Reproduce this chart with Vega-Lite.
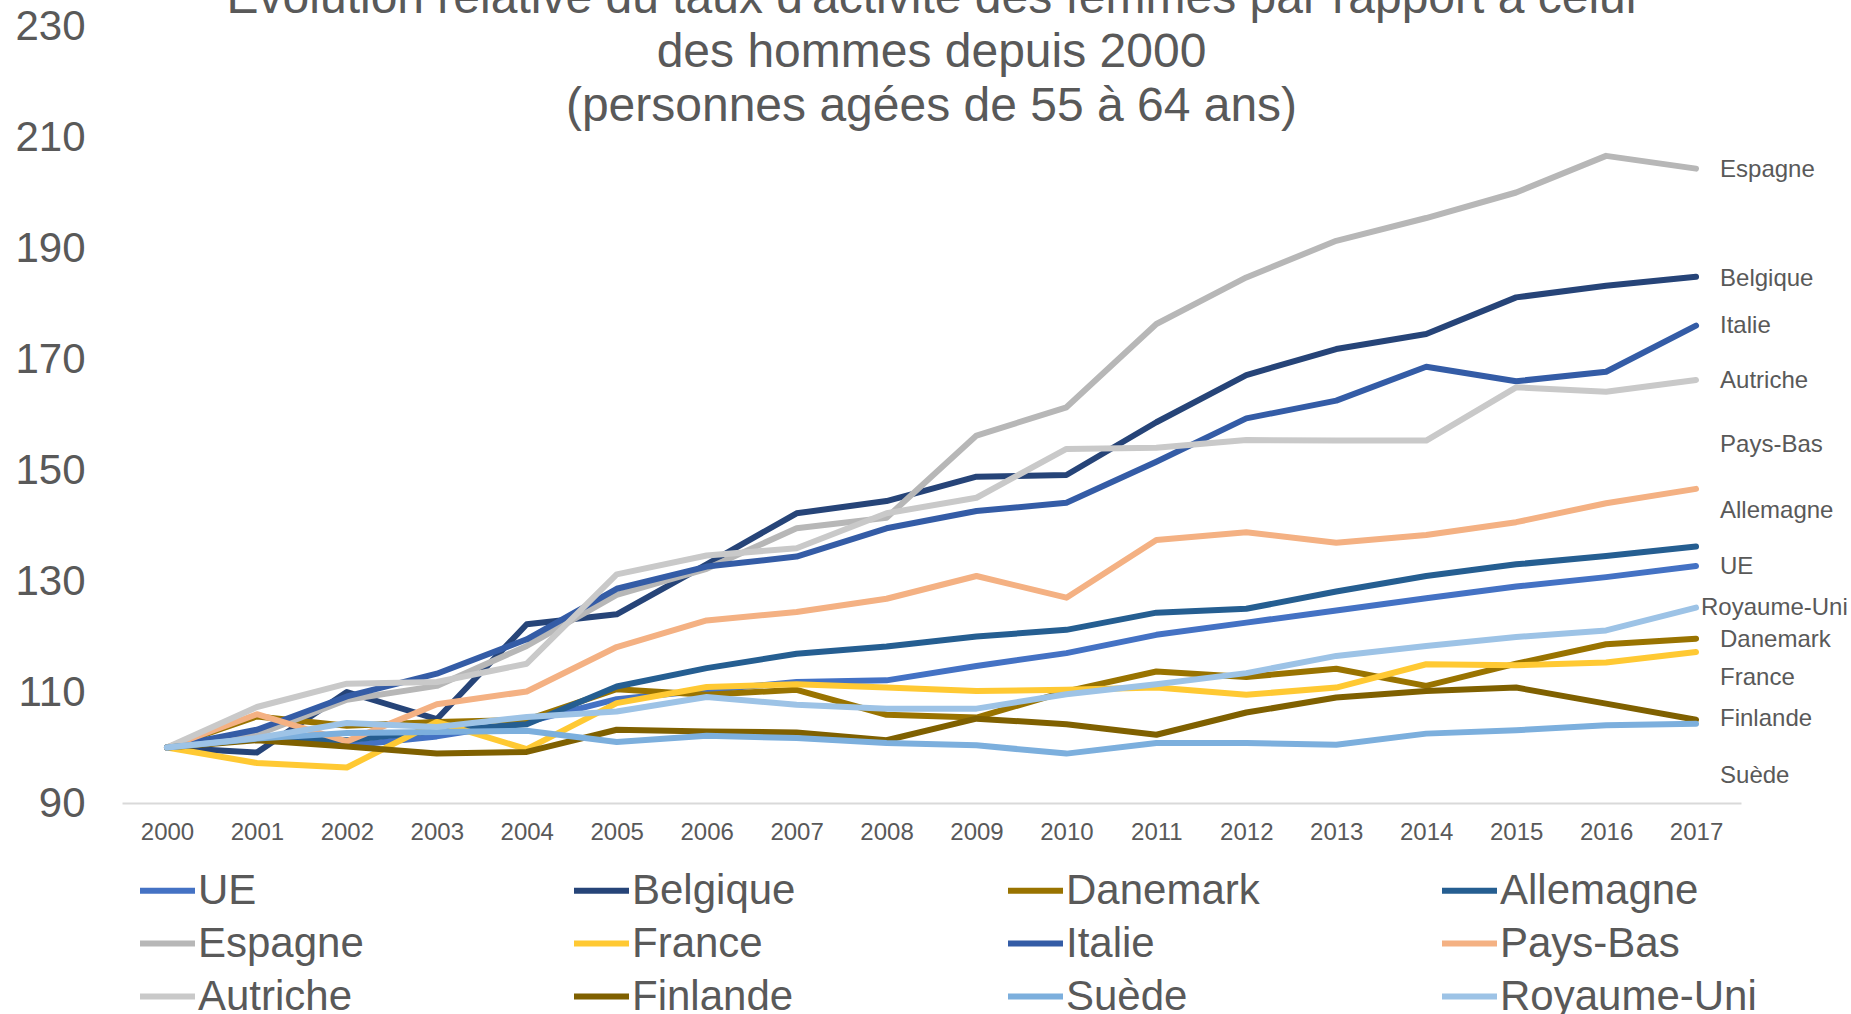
{
  "$schema": "https://vega.github.io/schema/vega-lite/v6.json",
  "autosize": {"type": "none"},
  "padding": {"left": 122, "top": 26, "right": 110, "bottom": 211},
  "width": 1619,
  "height": 777,
  "background": "white",
  "title": {
    "text": ["Évolution relative du taux d'activité des femmes par rapport à celui", "des hommes depuis 2000", "(personnes agées de 55 à 64 ans)"],
    "fontSize": 48, "fontWeight": "normal", "color": "#595959", "lineHeight": 54, "offset": -126, "anchor": "middle", "font": "Liberation Sans"
  },
  "datasets": {
    "etiquettes": [
      {"pays": "Espagne", "annee": "2017", "niveau": 204.1},
      {"pays": "Belgique", "annee": "2017", "niveau": 184.5},
      {"pays": "Italie", "annee": "2017", "niveau": 176.0},
      {"pays": "Autriche", "annee": "2017", "niveau": 166.0},
      {"pays": "Pays-Bas", "annee": "2017", "niveau": 154.5},
      {"pays": "Allemagne", "annee": "2017", "niveau": 142.6},
      {"pays": "UE", "annee": "2017", "niveau": 132.6},
      {"pays": "Royaume-Uni", "annee": "2017", "niveau": 125.1},
      {"pays": "Danemark", "annee": "2017", "niveau": 119.4},
      {"pays": "France", "annee": "2017", "niveau": 112.6},
      {"pays": "Finlande", "annee": "2017", "niveau": 105.1},
      {"pays": "Suède", "annee": "2017", "niveau": 94.9}
    ],
    "series": [
      {"pays":"UE","annee":"2000","valeur":100},{"pays":"UE","annee":"2001","valeur":101.5},{"pays":"UE","annee":"2002","valeur":100.3},{"pays":"UE","annee":"2003","valeur":102.0},{"pays":"UE","annee":"2004","valeur":104.6},{"pays":"UE","annee":"2005","valeur":108.7},{"pays":"UE","annee":"2006","valeur":110.3},{"pays":"UE","annee":"2007","valeur":111.8},{"pays":"UE","annee":"2008","valeur":112.1},{"pays":"UE","annee":"2009","valeur":114.7},{"pays":"UE","annee":"2010","valeur":117.0},{"pays":"UE","annee":"2011","valeur":120.3},{"pays":"UE","annee":"2012","valeur":122.5},{"pays":"UE","annee":"2013","valeur":124.7},{"pays":"UE","annee":"2014","valeur":126.9},{"pays":"UE","annee":"2015","valeur":129.0},{"pays":"UE","annee":"2016","valeur":130.7},{"pays":"UE","annee":"2017","valeur":132.7},
      {"pays":"Belgique","annee":"2000","valeur":100},{"pays":"Belgique","annee":"2001","valeur":99.1},{"pays":"Belgique","annee":"2002","valeur":110.0},{"pays":"Belgique","annee":"2003","valeur":105.1},{"pays":"Belgique","annee":"2004","valeur":122.2},{"pays":"Belgique","annee":"2005","valeur":124.0},{"pays":"Belgique","annee":"2006","valeur":133.0},{"pays":"Belgique","annee":"2007","valeur":142.2},{"pays":"Belgique","annee":"2008","valeur":144.4},{"pays":"Belgique","annee":"2009","valeur":148.8},{"pays":"Belgique","annee":"2010","valeur":149.1},{"pays":"Belgique","annee":"2011","valeur":158.6},{"pays":"Belgique","annee":"2012","valeur":167.1},{"pays":"Belgique","annee":"2013","valeur":171.8},{"pays":"Belgique","annee":"2014","valeur":174.5},{"pays":"Belgique","annee":"2015","valeur":181.1},{"pays":"Belgique","annee":"2016","valeur":183.2},{"pays":"Belgique","annee":"2017","valeur":184.8},
      {"pays":"Danemark","annee":"2000","valeur":100},{"pays":"Danemark","annee":"2001","valeur":105.6},{"pays":"Danemark","annee":"2002","valeur":103.9},{"pays":"Danemark","annee":"2003","valeur":104.6},{"pays":"Danemark","annee":"2004","valeur":105.0},{"pays":"Danemark","annee":"2005","valeur":110.5},{"pays":"Danemark","annee":"2006","valeur":109.5},{"pays":"Danemark","annee":"2007","valeur":110.4},{"pays":"Danemark","annee":"2008","valeur":105.9},{"pays":"Danemark","annee":"2009","valeur":105.4},{"pays":"Danemark","annee":"2010","valeur":110.1},{"pays":"Danemark","annee":"2011","valeur":113.7},{"pays":"Danemark","annee":"2012","valeur":112.7},{"pays":"Danemark","annee":"2013","valeur":114.2},{"pays":"Danemark","annee":"2014","valeur":111.1},{"pays":"Danemark","annee":"2015","valeur":115.1},{"pays":"Danemark","annee":"2016","valeur":118.6},{"pays":"Danemark","annee":"2017","valeur":119.6},
      {"pays":"Allemagne","annee":"2000","valeur":100},{"pays":"Allemagne","annee":"2001","valeur":101.9},{"pays":"Allemagne","annee":"2002","valeur":101.3},{"pays":"Allemagne","annee":"2003","valeur":103.0},{"pays":"Allemagne","annee":"2004","valeur":104.2},{"pays":"Allemagne","annee":"2005","valeur":111.0},{"pays":"Allemagne","annee":"2006","valeur":114.3},{"pays":"Allemagne","annee":"2007","valeur":116.9},{"pays":"Allemagne","annee":"2008","valeur":118.2},{"pays":"Allemagne","annee":"2009","valeur":120.0},{"pays":"Allemagne","annee":"2010","valeur":121.2},{"pays":"Allemagne","annee":"2011","valeur":124.3},{"pays":"Allemagne","annee":"2012","valeur":125.0},{"pays":"Allemagne","annee":"2013","valeur":128.1},{"pays":"Allemagne","annee":"2014","valeur":130.9},{"pays":"Allemagne","annee":"2015","valeur":133.0},{"pays":"Allemagne","annee":"2016","valeur":134.5},{"pays":"Allemagne","annee":"2017","valeur":136.2},
      {"pays":"Espagne","annee":"2000","valeur":100},{"pays":"Espagne","annee":"2001","valeur":102.3},{"pays":"Espagne","annee":"2002","valeur":108.6},{"pays":"Espagne","annee":"2003","valeur":111.1},{"pays":"Espagne","annee":"2004","valeur":118.3},{"pays":"Espagne","annee":"2005","valeur":127.5},{"pays":"Espagne","annee":"2006","valeur":132.2},{"pays":"Espagne","annee":"2007","valeur":139.5},{"pays":"Espagne","annee":"2008","valeur":141.4},{"pays":"Espagne","annee":"2009","valeur":156.2},{"pays":"Espagne","annee":"2010","valeur":161.3},{"pays":"Espagne","annee":"2011","valeur":176.3},{"pays":"Espagne","annee":"2012","valeur":184.7},{"pays":"Espagne","annee":"2013","valeur":191.3},{"pays":"Espagne","annee":"2014","valeur":195.4},{"pays":"Espagne","annee":"2015","valeur":200.0},{"pays":"Espagne","annee":"2016","valeur":206.6},{"pays":"Espagne","annee":"2017","valeur":204.3},
      {"pays":"France","annee":"2000","valeur":100},{"pays":"France","annee":"2001","valeur":97.2},{"pays":"France","annee":"2002","valeur":96.4},{"pays":"France","annee":"2003","valeur":104.6},{"pays":"France","annee":"2004","valeur":99.7},{"pays":"France","annee":"2005","valeur":108.0},{"pays":"France","annee":"2006","valeur":110.9},{"pays":"France","annee":"2007","valeur":111.4},{"pays":"France","annee":"2008","valeur":110.8},{"pays":"France","annee":"2009","valeur":110.2},{"pays":"France","annee":"2010","valeur":110.4},{"pays":"France","annee":"2011","valeur":110.8},{"pays":"France","annee":"2012","valeur":109.5},{"pays":"France","annee":"2013","valeur":110.8},{"pays":"France","annee":"2014","valeur":115.0},{"pays":"France","annee":"2015","valeur":114.8},{"pays":"France","annee":"2016","valeur":115.3},{"pays":"France","annee":"2017","valeur":117.2},
      {"pays":"Italie","annee":"2000","valeur":100},{"pays":"Italie","annee":"2001","valeur":103.2},{"pays":"Italie","annee":"2002","valeur":109.2},{"pays":"Italie","annee":"2003","valeur":113.3},{"pays":"Italie","annee":"2004","valeur":119.5},{"pays":"Italie","annee":"2005","valeur":128.6},{"pays":"Italie","annee":"2006","valeur":132.6},{"pays":"Italie","annee":"2007","valeur":134.4},{"pays":"Italie","annee":"2008","valeur":139.5},{"pays":"Italie","annee":"2009","valeur":142.6},{"pays":"Italie","annee":"2010","valeur":144.1},{"pays":"Italie","annee":"2011","valeur":151.5},{"pays":"Italie","annee":"2012","valeur":159.3},{"pays":"Italie","annee":"2013","valeur":162.5},{"pays":"Italie","annee":"2014","valeur":168.6},{"pays":"Italie","annee":"2015","valeur":166.0},{"pays":"Italie","annee":"2016","valeur":167.7},{"pays":"Italie","annee":"2017","valeur":176.0},
      {"pays":"Pays-Bas","annee":"2000","valeur":100},{"pays":"Pays-Bas","annee":"2001","valeur":106.0},{"pays":"Pays-Bas","annee":"2002","valeur":101.1},{"pays":"Pays-Bas","annee":"2003","valeur":107.8},{"pays":"Pays-Bas","annee":"2004","valeur":110.1},{"pays":"Pays-Bas","annee":"2005","valeur":118.1},{"pays":"Pays-Bas","annee":"2006","valeur":122.9},{"pays":"Pays-Bas","annee":"2007","valeur":124.4},{"pays":"Pays-Bas","annee":"2008","valeur":126.8},{"pays":"Pays-Bas","annee":"2009","valeur":130.9},{"pays":"Pays-Bas","annee":"2010","valeur":127.0},{"pays":"Pays-Bas","annee":"2011","valeur":137.4},{"pays":"Pays-Bas","annee":"2012","valeur":138.8},{"pays":"Pays-Bas","annee":"2013","valeur":136.9},{"pays":"Pays-Bas","annee":"2014","valeur":138.3},{"pays":"Pays-Bas","annee":"2015","valeur":140.6},{"pays":"Pays-Bas","annee":"2016","valeur":144.0},{"pays":"Pays-Bas","annee":"2017","valeur":146.6},
      {"pays":"Autriche","annee":"2000","valeur":100},{"pays":"Autriche","annee":"2001","valeur":107.3},{"pays":"Autriche","annee":"2002","valeur":111.5},{"pays":"Autriche","annee":"2003","valeur":111.8},{"pays":"Autriche","annee":"2004","valeur":115.1},{"pays":"Autriche","annee":"2005","valeur":131.2},{"pays":"Autriche","annee":"2006","valeur":134.6},{"pays":"Autriche","annee":"2007","valeur":135.9},{"pays":"Autriche","annee":"2008","valeur":142.2},{"pays":"Autriche","annee":"2009","valeur":145.0},{"pays":"Autriche","annee":"2010","valeur":153.8},{"pays":"Autriche","annee":"2011","valeur":154.0},{"pays":"Autriche","annee":"2012","valeur":155.4},{"pays":"Autriche","annee":"2013","valeur":155.3},{"pays":"Autriche","annee":"2014","valeur":155.3},{"pays":"Autriche","annee":"2015","valeur":164.9},{"pays":"Autriche","annee":"2016","valeur":164.1},{"pays":"Autriche","annee":"2017","valeur":166.2},
      {"pays":"Finlande","annee":"2000","valeur":100},{"pays":"Finlande","annee":"2001","valeur":101.3},{"pays":"Finlande","annee":"2002","valeur":100.2},{"pays":"Finlande","annee":"2003","valeur":98.9},{"pays":"Finlande","annee":"2004","valeur":99.2},{"pays":"Finlande","annee":"2005","valeur":103.2},{"pays":"Finlande","annee":"2006","valeur":102.9},{"pays":"Finlande","annee":"2007","valeur":102.7},{"pays":"Finlande","annee":"2008","valeur":101.3},{"pays":"Finlande","annee":"2009","valeur":105.2},{"pays":"Finlande","annee":"2010","valeur":104.2},{"pays":"Finlande","annee":"2011","valeur":102.3},{"pays":"Finlande","annee":"2012","valeur":106.3},{"pays":"Finlande","annee":"2013","valeur":109.0},{"pays":"Finlande","annee":"2014","valeur":110.2},{"pays":"Finlande","annee":"2015","valeur":110.8},{"pays":"Finlande","annee":"2016","valeur":107.9},{"pays":"Finlande","annee":"2017","valeur":105.0},
      {"pays":"Suède","annee":"2000","valeur":100},{"pays":"Suède","annee":"2001","valeur":101.6},{"pays":"Suède","annee":"2002","valeur":102.6},{"pays":"Suède","annee":"2003","valeur":102.8},{"pays":"Suède","annee":"2004","valeur":103.0},{"pays":"Suède","annee":"2005","valeur":101.0},{"pays":"Suède","annee":"2006","valeur":102.1},{"pays":"Suède","annee":"2007","valeur":101.7},{"pays":"Suède","annee":"2008","valeur":100.8},{"pays":"Suède","annee":"2009","valeur":100.4},{"pays":"Suède","annee":"2010","valeur":98.9},{"pays":"Suède","annee":"2011","valeur":100.8},{"pays":"Suède","annee":"2012","valeur":100.8},{"pays":"Suède","annee":"2013","valeur":100.5},{"pays":"Suède","annee":"2014","valeur":102.5},{"pays":"Suède","annee":"2015","valeur":103.1},{"pays":"Suède","annee":"2016","valeur":104.0},{"pays":"Suède","annee":"2017","valeur":104.3},
      {"pays":"Royaume-Uni","annee":"2000","valeur":100},{"pays":"Royaume-Uni","annee":"2001","valeur":101.7},{"pays":"Royaume-Uni","annee":"2002","valeur":104.4},{"pays":"Royaume-Uni","annee":"2003","valeur":103.7},{"pays":"Royaume-Uni","annee":"2004","valeur":105.5},{"pays":"Royaume-Uni","annee":"2005","valeur":106.5},{"pays":"Royaume-Uni","annee":"2006","valeur":109.1},{"pays":"Royaume-Uni","annee":"2007","valeur":107.7},{"pays":"Royaume-Uni","annee":"2008","valeur":107.0},{"pays":"Royaume-Uni","annee":"2009","valeur":107.0},{"pays":"Royaume-Uni","annee":"2010","valeur":109.6},{"pays":"Royaume-Uni","annee":"2011","valeur":111.4},{"pays":"Royaume-Uni","annee":"2012","valeur":113.4},{"pays":"Royaume-Uni","annee":"2013","valeur":116.5},{"pays":"Royaume-Uni","annee":"2014","valeur":118.3},{"pays":"Royaume-Uni","annee":"2015","valeur":119.9},{"pays":"Royaume-Uni","annee":"2016","valeur":121.1},{"pays":"Royaume-Uni","annee":"2017","valeur":125.2}
    ]
  },
  "layer": [
    {
      "data": {"name": "series"},
      "mark": {"type": "line", "strokeWidth": 6, "strokeJoin": "round", "strokeCap": "round"},
      "encoding": {
        "x": {"field": "annee", "type": "ordinal", "scale": {"type": "point", "padding": 0.5}, "sort": null,
              "axis": {"title": null, "labelAngle": 0, "labelFontSize": 24, "labelColor": "#595959", "domainColor": "#D9D9D9", "domainWidth": 2, "ticks": false, "grid": false, "labelPadding": 17}},
        "y": {"field": "valeur", "type": "quantitative", "scale": {"domain": [90, 230], "nice": false, "zero": false},
              "axis": {"title": null, "values": [90, 110, 130, 150, 170, 190, 210, 230], "labelFontSize": 42, "labelColor": "#595959", "domain": false, "ticks": false, "grid": false, "labelPadding": 37}},
        "color": {"field": "pays", "type": "nominal",
          "scale": {"domain": ["UE", "Belgique", "Danemark", "Allemagne", "Espagne", "France", "Italie", "Pays-Bas", "Autriche", "Finlande", "Suède", "Royaume-Uni"],
                    "range": ["#4472C4", "#264478", "#997300", "#255E91", "#B7B7B7", "#FFC933", "#345CA6", "#F4B183", "#C9C9C9", "#7F6000", "#7CAFDD", "#9DC3E6"]},
          "legend": {"title": null, "orient": "none", "legendX": 15, "legendY": 834, "direction": "horizontal", "columns": 4, "gridAlign": "all", "columnPadding": 107, "rowPadding": 1,
                     "symbolType": "stroke", "symbolSize": 3025, "symbolStrokeWidth": 6, "labelFontSize": 42, "labelColor": "#595959", "labelLimit": 400, "labelOffset": 0}}
      }
    },
    {
      "data": {"name": "etiquettes"},
      "transform": [{"filter": "datum.pays !== 'Royaume-Uni'"}],
      "mark": {"type": "text", "align": "left", "baseline": "middle", "dx": 24, "fontSize": 24, "color": "#595959"},
      "encoding": {
        "x": {"field": "annee", "type": "ordinal"},
        "y": {"field": "niveau", "type": "quantitative"},
        "text": {"field": "pays"}
      }
    },
    {
      "data": {"name": "etiquettes"},
      "transform": [{"filter": "datum.pays === 'Royaume-Uni'"}],
      "mark": {"type": "text", "align": "left", "baseline": "middle", "dx": 5, "fontSize": 24, "color": "#595959"},
      "encoding": {
        "x": {"field": "annee", "type": "ordinal"},
        "y": {"field": "niveau", "type": "quantitative"},
        "text": {"field": "pays"}
      }
    }
  ],
  "config": {
    "font": "Liberation Sans",
    "view": {"stroke": null}
  }
}
